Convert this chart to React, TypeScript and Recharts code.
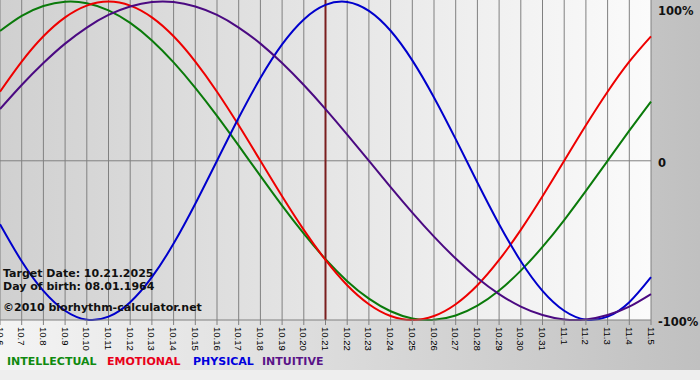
import { LineChart, Line, XAxis, YAxis, CartesianGrid, ReferenceLine } from 'recharts';

const days = [
  '10.6', '10.7', '10.8', '10.9', '10.10', '10.11', '10.12', '10.13', '10.14', '10.15', '10.16',
  '10.17', '10.18', '10.19', '10.20', '10.21', '10.22', '10.23', '10.24', '10.25', '10.26',
  '10.27', '10.28', '10.29', '10.30', '10.31', '11.1', '11.2', '11.3', '11.4', '11.5',
];

const intellectual = [81.5, 91.0, 97.2, 99.9, 99.0, 94.5, 86.6, 75.6, 61.8, 45.8, 28.2, 9.5, -9.5, -28.2, -45.8, -61.8, -75.6, -86.6, -94.5, -99.0, -99.9, -97.2, -91.0, -81.5, -69.0, -54.1, -37.2, -18.9, 0, 18.9, 37.2];
const emotional = [43.4, 62.3, 78.2, 90.1, 97.5, 100, 97.5, 90.1, 78.2, 62.3, 43.4, 22.3, 0, -22.3, -43.4, -62.3, -78.2, -90.1, -97.5, -100, -97.5, -90.1, -78.2, -62.3, -43.4, -22.3, 0, 22.3, 43.4, 62.3, 78.2];
const physical = [-39.8, -63.1, -81.7, -94.2, -99.8, -97.9, -88.8, -73.1, -52.0, -27.0, 0, 27.0, 52.0, 73.1, 88.8, 97.9, 99.8, 94.2, 81.7, 63.1, 39.8, 13.6, -13.6, -39.8, -63.1, -81.7, -94.2, -99.8, -97.9, -88.8, -73.1];
const intuitive = [32.5, 47.6, 61.4, 73.6, 83.7, 91.6, 96.9, 99.7, 99.7, 96.9, 91.6, 83.7, 73.6, 61.4, 47.6, 32.5, 16.5, 0, -16.5, -32.5, -47.6, -61.4, -73.6, -83.7, -91.6, -96.9, -99.7, -99.7, -96.9, -91.6, -83.7];

const targetDay = '10.21';

const legend = [
  { label: 'INTELLECTUAL', color: '#108a10', left: 7 },
  { label: 'EMOTIONAL', color: '#e8001a', left: 107 },
  { label: 'PHYSICAL', color: '#0000dd', left: 193 },
  { label: 'INTUITIVE', color: '#5a1488', left: 262 },
];

const data = days.map((day, i) => ({
  day,
  intellectual: intellectual[i],
  emotional: emotional[i],
  physical: physical[i],
  intuitive: intuitive[i],
}));

const DayTick = (props: any) => {
  const { x, y, payload } = props;
  return (
    <text
      x={x}
      y={y}
      transform={`rotate(90 ${x} ${y})`}
      textAnchor="start"
      dominantBaseline="central"
      fontSize={9.5}
      fontFamily="Liberation Sans Narrow, Arial Narrow, Liberation Sans, sans-serif"
      fill="#000"
    >
      {payload.value}
    </text>
  );
};

const PercentTick = (props: any) => {
  const { x, y, payload } = props;
  const v = payload.value;
  const txt = v === 0 ? '0' : `${v}%`;
  return (
    <text
      x={x - 1}
      y={Math.max(y + 2, 8)}
      textAnchor="start"
      dominantBaseline="central"
      fontSize={11.5}
      fontWeight="bold"
      fontFamily="DejaVu Sans, Verdana, sans-serif"
      fill="#111"
    >
      {txt}
    </text>
  );
};

const infoStyle = {
  position: 'absolute' as const,
  left: 3,
  fontFamily: 'DejaVu Sans, Verdana, sans-serif',
  fontWeight: 'bold' as const,
  fontSize: 11,
  lineHeight: '11px',
  color: '#111',
  whiteSpace: 'nowrap' as const,
};

export default function App() {
  return (
    <div
      style={{
        position: 'absolute',
        left: 0,
        top: 0,
        width: 700,
        height: 380,
        background: 'linear-gradient(to right, #f4f4f4, #c0c0c0)',
        overflow: 'hidden',
      }}
    >
      <div style={{ position: 'absolute', left: 0, top: 370, width: 700, height: 10, background: '#eeeeee' }} />
      <LineChart width={700} height={380} data={data} margin={{ top: 0, right: 0, bottom: 0, left: 0 }}>
        <defs>
          <linearGradient id="plotBg" x1="0" y1="0" x2="1" y2="0">
            <stop offset="0%" stopColor="#d0d0d0" />
            <stop offset="100%" stopColor="#fbfbfb" />
          </linearGradient>
        </defs>
        <CartesianGrid horizontal={false} stroke="#808080" fill="url(#plotBg)" fillOpacity={1} />
        <XAxis
          dataKey="day"
          interval={0}
          height={60}
          tickSize={5}
          axisLine={{ stroke: '#808080' }}
          tickLine={{ stroke: '#808080' }}
          tick={<DayTick />}
        />
        <YAxis
          orientation="right"
          width={49}
          domain={[-100, 101]}
          ticks={[-100, 0, 100]}
          axisLine={false}
          tickLine={false}
          tick={<PercentTick />}
        />
        <ReferenceLine y={0} stroke="#808080" />
        <ReferenceLine x={targetDay} stroke="#7a1f1f" strokeWidth={2} />
        <Line type="natural" dataKey="intellectual" stroke="#0a7a0a" strokeWidth={2} dot={false} activeDot={false} isAnimationActive={false} />
        <Line type="natural" dataKey="emotional" stroke="#ee0000" strokeWidth={2} dot={false} activeDot={false} isAnimationActive={false} />
        <Line type="natural" dataKey="physical" stroke="#0000cc" strokeWidth={2} dot={false} activeDot={false} isAnimationActive={false} />
        <Line type="natural" dataKey="intuitive" stroke="#4b0a82" strokeWidth={2} dot={false} activeDot={false} isAnimationActive={false} />
      </LineChart>
      <div style={{ ...infoStyle, top: 268 }}>Target Date: 10.21.2025</div>
      <div style={{ ...infoStyle, top: 281 }}>Day of birth: 08.01.1964</div>
      <div style={{ ...infoStyle, top: 302 }}>©2010 biorhythm-calculator.net</div>
      {legend.map((l) => (
        <div key={l.label} style={{ ...infoStyle, top: 356, left: l.left, color: l.color }}>
          {l.label}
        </div>
      ))}
    </div>
  );
}
